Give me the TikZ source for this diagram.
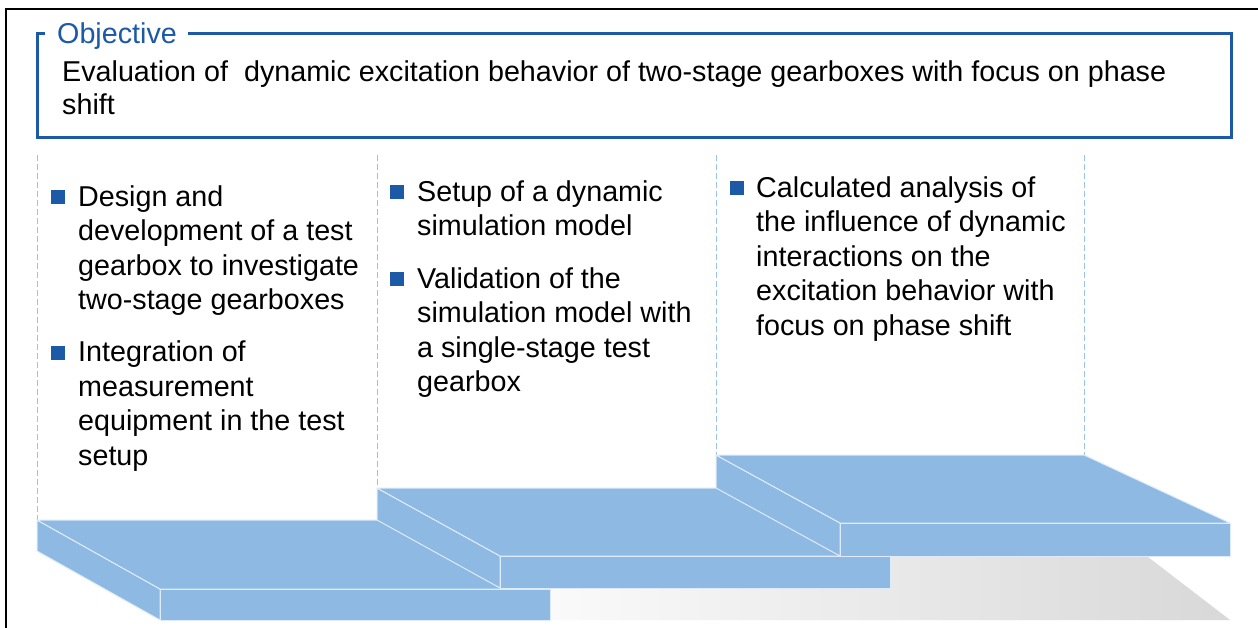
\documentclass[tikz,border=0pt]{standalone}
\usepackage{fontspec}
\setmainfont{Liberation Sans}
\definecolor{dblue}{RGB}{28,89,166}
\definecolor{slab}{RGB}{142,185,227}
\definecolor{slabedge}{RGB}{222,235,248}
\definecolor{dash}{RGB}{155,194,232}
\definecolor{shadowL}{RGB}{250,250,250}
\definecolor{shadowR}{RGB}{216,216,216}
\tikzset{
  itemtext/.style={anchor=north west, inner sep=0pt, align=left, font=\fontsize{28.7}{34.5}\selectfont},
  bulletsq/.style={fill=dblue, inner sep=0pt, minimum size=14pt, draw=none},
  face/.style={fill=slab, draw=slabedge, line width=1pt, line join=round},
  guide/.style={draw=dash, line width=1pt, dash pattern=on 6pt off 3pt},
}
\begin{document}
\begin{tikzpicture}[x=1pt,y=-1pt]
\useasboundingbox (0,0) rectangle (1258,627);
\fill[white] (0,0) rectangle (1258,627);
% outer frame
\draw[black, line width=2pt] (6,640) -- (6,9) -- (1270,9);
% objective box
\draw[dblue, line width=3pt] (45,33) -- (37,33) -- (37,137) -- (1231,137) -- (1231,33) -- (188,33);
\node[anchor=base west, inner sep=0pt, text=dblue, font=\fontsize{28.7}{33}\selectfont] (objt) at (57,43) {Objective};
\node[anchor=north west, inner sep=0pt, align=left, font=\fontsize{28.7}{33}\selectfont] (objb) at (62,57.9)
  {\strut Evaluation of\ \ dynamic excitation behavior of two-stage gearboxes with focus on phase\\shift};
% guide lines
\coordinate (g1t) at (37,155); \coordinate (g1b) at (37,520);
\coordinate (g2t) at (377,155); \coordinate (g2b) at (377,488);
\coordinate (g3t) at (716,155); \coordinate (g3b) at (716,455);
\coordinate (g4t) at (1084,155); \coordinate (g4b) at (1084,455);
\draw[guide] (g1t) -- (g1b);
\draw[guide] (g2t) -- (g2b);
\draw[guide] (g3t) -- (g3b);
\draw[guide] (g4t) -- (g4b);
% shadow
\shade[left color=shadowL, right color=shadowR] (550,557) -- (1148,557) -- (1230,620) -- (550,620) -- cycle;
% slab 1
\path[face] (37,520) -- (37,551) -- (160,620) -- (160,589) -- cycle;
\path[face] (37,520) -- (405,520) -- (550,589) -- (160,589) -- cycle;
\path[face] (160,589) -- (550,589) -- (550,620) -- (160,620) -- cycle;
% slab 2
\path[face] (377,488) -- (377,520) -- (500,588) -- (500,556) -- cycle;
\path[face] (377,488) -- (745,488) -- (890,556) -- (500,556) -- cycle;
\path[face] (500,556) -- (890,556) -- (890,588) -- (500,588) -- cycle;
% slab 3
\path[face] (716,455) -- (716,488) -- (840,556) -- (840,523) -- cycle;
\path[face] (716,455) -- (1084,455) -- (1230,523) -- (840,523) -- cycle;
\path[face] (840,523) -- (1230,523) -- (1230,556) -- (840,556) -- cycle;
% column 1
\node[bulletsq] (b11) at (58,197) {};
\node[itemtext] (t11) at (78,181.85) {\strut Design and\\development of a test\\gearbox to investigate\\two-stage gearboxes};
\node[bulletsq] (b12) at (58,353) {};
\node[itemtext] (t12) at (78,337.35) {\strut Integration of\\measurement\\equipment in the test\\setup};
% column 2
\node[bulletsq] (b21) at (397,192) {};
\node[itemtext] (t21) at (417,176.85) {\strut Setup of a dynamic\\simulation model};
\node[bulletsq] (b22) at (397,279) {};
\node[itemtext] (t22) at (417,263.85) {\strut Validation of the\\simulation model with\\a single-stage test\\gearbox};
% column 3
\node[bulletsq] (b31) at (737,188) {};
\node[itemtext] (t31) at (756,172.85) {\strut Calculated analysis of\\the influence of dynamic\\interactions on the\\excitation behavior with\\focus on phase shift};
\end{tikzpicture}
\end{document}
